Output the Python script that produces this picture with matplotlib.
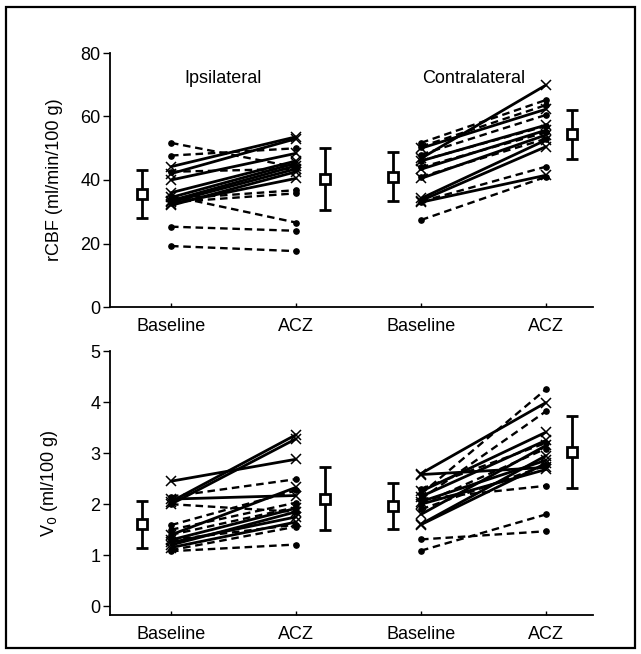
import matplotlib
matplotlib.use("Agg")
import matplotlib.pyplot as plt
from matplotlib.patches import Rectangle

plt.rcParams['font.family'] = ['Liberation Sans', 'DejaVu Sans']

# ---- data ----
x_labels = ["Baseline", "ACZ", "Baseline", "ACZ"]
group_titles = ["Ipsilateral", "Contralateral"]

# rCBF, ipsilateral (baseline, ACZ)
cbf_ipsi_solid_base = [44.2, 42.0, 40.0, 36.0, 34.5, 33.5, 33.0, 32.0, 32.5]
cbf_ipsi_solid_acz = [53.6, 53.0, 48.4, 46.0, 45.3, 44.5, 43.5, 42.6, 40.5]
cbf_ipsi_dash_base = [51.7, 47.7, 42.6, 35.0, 34.0, 33.0, 25.3, 19.2]
cbf_ipsi_dash_acz = [44.0, 50.0, 43.5, 26.6, 36.8, 35.8, 24.0, 17.6]
# rCBF, contralateral
cbf_contra_solid_base = [46.8, 50.0, 46.0, 43.4, 40.5, 34.2, 33.5, 33.0]
cbf_contra_solid_acz = [69.9, 62.3, 57.3, 55.7, 54.2, 52.6, 50.5, 41.5]
cbf_contra_dash_base = [51.7, 50.5, 48.0, 46.1, 44.0, 33.2, 27.4, 41.0]
cbf_contra_dash_acz = [65.2, 63.6, 60.5, 57.0, 55.0, 44.2, 41.0, 53.0]
# rCBF mean +- SD (ipsi base, ipsi ACZ, contra base, contra ACZ)
cbf_mean = [35.6, 40.3, 41.0, 54.4]
cbf_sd = [7.5, 9.7, 7.7, 7.8]

# V0, ipsilateral
v0_ipsi_solid_base = [2.45, 2.05, 2.00, 2.10, 1.40, 1.30, 1.20, 1.15, 1.25]
v0_ipsi_solid_acz = [2.88, 3.36, 3.28, 2.17, 2.33, 1.92, 1.85, 1.65, 1.75]
v0_ipsi_dash_base = [2.15, 2.00, 1.59, 1.50, 1.40, 1.30, 1.10, 1.08]
v0_ipsi_dash_acz = [2.49, 1.85, 2.27, 2.03, 1.94, 1.60, 1.56, 1.21]
# V0, contralateral
v0_contra_solid_base = [2.60, 2.58, 2.25, 2.15, 2.05, 1.80, 1.61, 1.60, 2.00]
v0_contra_solid_acz = [3.99, 2.72, 3.41, 3.25, 2.86, 3.15, 2.95, 2.80, 2.68]
v0_contra_dash_base = [2.20, 2.10, 2.30, 2.00, 2.10, 1.90, 1.09, 1.31]
v0_contra_dash_acz = [4.25, 3.82, 3.20, 3.09, 2.36, 2.76, 1.80, 1.47]
v0_mean = [1.61, 2.11, 1.96, 3.02]
v0_sd = [0.46, 0.61, 0.45, 0.70]

# x positions
x_ipsi = [1, 2]
x_contra = [3, 4]
x_summary = [0.77, 2.23, 2.78, 4.21]

fig = plt.figure(figsize=(6.41, 6.54), dpi=100)
ax1 = fig.add_axes([110/641, 1-307/654, (593-110)/641, (307-53)/654])
ax2 = fig.add_axes([110/641, 1-615/654, (593-110)/641, (615-351)/654])

def draw_pairs(ax, xs, base, acz, solid):
    for b, a in zip(base, acz):
        if solid:
            ax.plot(xs, [b, a], color='black', lw=2.0, marker='x', ms=6.5,
                    mew=1.1, solid_capstyle='round')
        else:
            ax.plot(xs, [b, a], color='black', lw=1.7, ls=(0, (3.2, 2.0)),
                    marker='o', ms=3.8)

def draw_panel(ax, sets, means, sds):
    for xs, sb, sa, db, da in sets:
        draw_pairs(ax, xs, db, da, False)
        draw_pairs(ax, xs, sb, sa, True)
    ax.errorbar(x_summary, means, yerr=sds, fmt='s', color='black', ms=6.5,
                mfc='white', mec='black', mew=2.0, elinewidth=2.0,
                capsize=4, capthick=1.8, zorder=5)

draw_panel(ax1, [
    (x_ipsi, cbf_ipsi_solid_base, cbf_ipsi_solid_acz, cbf_ipsi_dash_base, cbf_ipsi_dash_acz),
    (x_contra, cbf_contra_solid_base, cbf_contra_solid_acz, cbf_contra_dash_base, cbf_contra_dash_acz),
], cbf_mean, cbf_sd)
draw_panel(ax2, [
    (x_ipsi, v0_ipsi_solid_base, v0_ipsi_solid_acz, v0_ipsi_dash_base, v0_ipsi_dash_acz),
    (x_contra, v0_contra_solid_base, v0_contra_solid_acz, v0_contra_dash_base, v0_contra_dash_acz),
], v0_mean, v0_sd)

for ax in (ax1, ax2):
    ax.set_xlim(0.512, 4.376)
    ax.spines['top'].set_visible(False)
    ax.spines['right'].set_visible(False)
    ax.spines['left'].set_linewidth(1.3)
    ax.spines['bottom'].set_linewidth(1.3)
    ax.set_xticks([1, 2, 3, 4])
    ax.set_xticklabels(x_labels, fontsize=13)
    ax.tick_params(axis='x', direction='in', length=3, width=1, pad=8)
    ax.tick_params(axis='y', direction='out', length=5, width=1, labelsize=13, pad=2)

ax1.set_ylim(0, 80)
ax1.set_yticks([0, 20, 40, 60, 80])
ax1.set_ylabel("rCBF (ml/min/100 g)", fontsize=13, labelpad=12)
ax1.text(1.42, 72, group_titles[0], ha='center', va='center', fontsize=13)
ax1.text(3.42, 72, group_titles[1], ha='center', va='center', fontsize=13)

ax2.set_ylim(-0.17, 5)
ax2.set_yticks([0, 1, 2, 3, 4, 5])
ax2.set_ylabel(r"V$_0$ (ml/100 g)", fontsize=13, labelpad=22)

fig.patches.append(Rectangle((6/641, 1-648/654), (635-6)/641, (648-7)/654,
                             transform=fig.transFigure, fill=False,
                             edgecolor='black', lw=1.6))

fig.savefig("out.png", dpi=100)
